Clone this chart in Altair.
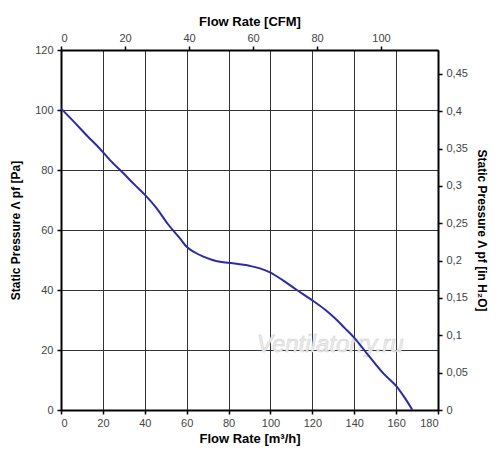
import altair as alt
import pandas as pd

# Curve (flow in m3/h, static pressure in Pa)
flow = [0, 6, 12.9, 18, 23.4, 29.8, 35, 40.1, 45.7, 51, 56.8, 60, 64, 68, 72, 75.9, 82, 90.3, 95, 99.8, 106, 112.6, 119.7, 126, 131.7, 135.5, 139.6, 146, 153.9, 160.3, 164, 167.8]
pressure = [100.5, 96.2, 91.1, 87.5, 83.3, 78.9, 75.2, 71.7, 67.2, 62, 57.2, 54.4, 52.5, 51.1, 50.1, 49.4, 48.9, 48, 47.2, 45.9, 43.2, 40, 36.7, 33.5, 30, 27.3, 24.4, 18.9, 12.2, 7.8, 4.2, 0]

x_ticks = [0, 20, 40, 60, 80, 100, 120, 140, 160, 180]
y_ticks = [0, 20, 40, 60, 80, 100, 120]
cfm_ticks = [0, 20, 40, 60, 80, 100]
inh2o_ticks = [0, 0.05, 0.1, 0.15, 0.2, 0.25, 0.3, 0.35, 0.4, 0.45]
cfm_domain = [0, 117.8]
inh2o_domain = [0, 0.482]

watermark_x = [128.5]
watermark_y = [21.7]
watermark_text = ["Ventilatorry.ru"]

df = pd.DataFrame({"flow": flow, "pressure": pressure})
df2 = pd.DataFrame({"cfm": cfm_domain, "inh2o": inh2o_domain})
dfw = pd.DataFrame({"x": watermark_x, "y": watermark_y, "t": watermark_text})

FONT = "Liberation Sans"
axis_common = dict(
    labelFont=FONT, labelFontSize=11, labelColor="#444444",
    titleFont=FONT, titleFontWeight="bold", titleColor="#000000",
    domainColor="#000000", domainWidth=2, tickColor="#000000", tickSize=4, tickWidth=1.5,
)

x_main = alt.X("flow:Q", scale=alt.Scale(domain=[0, 180], nice=False, zero=True),
               axis=alt.Axis(title="Flow Rate [m³/h]", values=x_ticks, grid=True,
                             gridColor="#333333", gridWidth=1, gridOpacity=1, titleFontSize=13,
                             orient="bottom", labelPadding=3, titlePadding=4, **axis_common))
y_main = alt.Y("pressure:Q", scale=alt.Scale(domain=[0, 120], nice=False, zero=True),
               axis=alt.Axis(title="Static Pressure Λ pf [Pa]", values=y_ticks, grid=True,
                             gridColor="#333333", gridWidth=1, gridOpacity=1, titleFontSize=12,
                             orient="left", labelPadding=4, titlePadding=12, **axis_common))

line = alt.Chart(df).mark_line(color="#2b2ba6", strokeWidth=2, interpolate="monotone").encode(
    x=x_main, y=y_main
)

wm = alt.Chart(dfw).mark_text(font=FONT, fontSize=24, fontStyle="italic", color="#ececec",
                              stroke="#d0d0d0", strokeWidth=0.5).encode(
    x=alt.X("x:Q"), y=alt.Y("y:Q"), text="t:N"
)

main = alt.layer(wm, line)

sec = alt.Chart(df2).mark_point(opacity=0).encode(
    x=alt.X("cfm:Q", scale=alt.Scale(domain=cfm_domain, nice=False, zero=True),
            axis=alt.Axis(title="Flow Rate [CFM]", values=cfm_ticks, orient="top", grid=False,
                          titleFontSize=13, labelPadding=3, titlePadding=4, **axis_common)),
    y=alt.Y("inh2o:Q", scale=alt.Scale(domain=inh2o_domain, nice=False, zero=True),
            axis=alt.Axis(title="Static Pressure Λ pf [in H₂O]", values=inh2o_ticks, orient="right",
                          grid=False, labelPadding=4, titlePadding=7, titleFontSize=12,
                          labelExpr="replace(format(datum.value, '.2~f'), '.', ',')",
                          **axis_common)),
)

chart = alt.layer(main, sec).resolve_scale(x="independent", y="independent").properties(
    width=377, height=360,
    autosize=alt.AutoSizeParams(type="none"),
    padding={"left": 53, "top": 42, "right": 54, "bottom": 40},
).configure_view(stroke=None).configure(background="white")

chart.save("out.html", embed_options={"renderer": "svg", "actions": False})
